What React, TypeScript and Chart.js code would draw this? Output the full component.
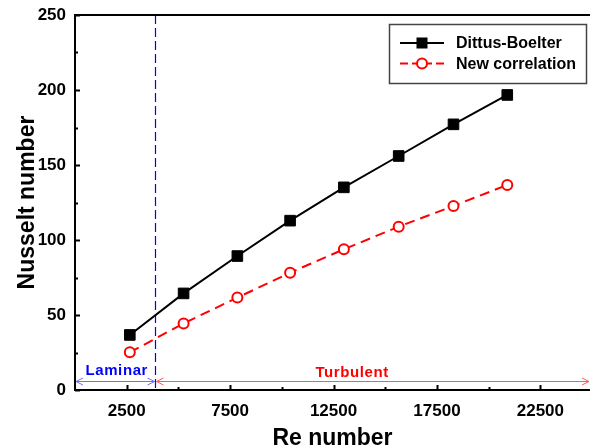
import React, { useEffect, useRef } from "react";
import { Chart, registerables } from "chart.js";

Chart.register(...registerables);

const FONT = "'Liberation Sans', Arial, Helvetica, sans-serif";
Chart.defaults.font.family = FONT;

// ---- data ----
const reNumber = [2650, 5250, 7850, 10400, 13000, 15650, 18300, 20900];
const dittusBoelter = [36.7, 64.4, 89.3, 112.9, 135.1, 156.0, 177.1, 196.7];
const newCorrelation = [25.1, 44.4, 61.6, 78.2, 93.8, 108.9, 122.7, 136.7];

const xTickLabels = [2500, 7500, 12500, 17500, 22500];
const xMinorTicks = [5000, 10000, 15000, 20000];
const yTickLabels = [0, 50, 100, 150, 200, 250];
const yMinorTicks = [25, 75, 125, 175, 225];

const X_MIN = 0;
const X_MAX = 24900;
const Y_MIN = 0;
const Y_MAX = 250;

const transitionRe = 3850;
const arrowNu = 6.2;
const seriesLabels = ["Dittus-Boelter", "New correlation"];
const regionLabels = ["Laminar", "Turbulent"];

function chevron(ctx: CanvasRenderingContext2D, x: number, y: number, dir: number) {
  ctx.beginPath();
  ctx.moveTo(x - dir * 7, y - 3.5);
  ctx.lineTo(x, y);
  ctx.lineTo(x - dir * 7, y + 3.5);
  ctx.stroke();
}

const decor = {
  id: "decor",
  beforeDatasetsDraw(chart: any) {
    const { ctx, chartArea, scales } = chart;
    const x = Math.round(scales.x.getPixelForValue(transitionRe)) + 0.5;
    ctx.save();
    ctx.strokeStyle = "#0000ff";
    ctx.lineWidth = 1.2;
    ctx.setLineDash([9, 4]);
    ctx.beginPath();
    ctx.moveTo(x, chartArea.top);
    ctx.lineTo(x, chartArea.bottom);
    ctx.stroke();
    ctx.restore();
  },
  afterDraw(chart: any) {
    const { ctx, chartArea, scales } = chart;
    const xs = scales.x;
    const ys = scales.y;
    ctx.save();
    // top frame
    ctx.strokeStyle = "#000";
    ctx.lineWidth = 2;
    ctx.beginPath();
    ctx.moveTo(chartArea.left - 1, chartArea.top);
    ctx.lineTo(chartArea.right + 2, chartArea.top);
    ctx.stroke();
    // inward ticks
    ctx.lineWidth = 2;
    const bottom = chartArea.bottom;
    const left = chartArea.left;
    xTickLabels.forEach((v) => {
      const p = Math.round(xs.getPixelForValue(v)) + 0.5;
      ctx.beginPath();
      ctx.moveTo(p, bottom);
      ctx.lineTo(p, bottom - 5);
      ctx.stroke();
    });
    xMinorTicks.forEach((v) => {
      const p = Math.round(xs.getPixelForValue(v)) + 0.5;
      ctx.beginPath();
      ctx.moveTo(p, bottom);
      ctx.lineTo(p, bottom - 3);
      ctx.stroke();
    });
    yTickLabels.forEach((v) => {
      const p = Math.round(ys.getPixelForValue(v)) + 0.5;
      ctx.beginPath();
      ctx.moveTo(left, p);
      ctx.lineTo(left + 5, p);
      ctx.stroke();
    });
    yMinorTicks.forEach((v) => {
      const p = Math.round(ys.getPixelForValue(v)) + 0.5;
      ctx.beginPath();
      ctx.moveTo(left, p);
      ctx.lineTo(left + 3, p);
      ctx.stroke();
    });

    // region arrows
    const ay = Math.round(ys.getPixelForValue(arrowNu)) + 0.5;
    const xt = Math.round(xs.getPixelForValue(transitionRe)) + 0.5;
    const xl = chartArea.left + 1;
    const xr = chartArea.right - 1;
    ctx.lineWidth = 1;
    ctx.strokeStyle = "#6e6eff";
    ctx.beginPath();
    ctx.moveTo(xl, ay);
    ctx.lineTo(xt - 1, ay);
    ctx.stroke();
    chevron(ctx, xl, ay, -1);
    chevron(ctx, xt - 1, ay, 1);
    ctx.strokeStyle = "#ff5a5a";
    ctx.beginPath();
    ctx.moveTo(xt + 1, ay);
    ctx.lineTo(xr, ay);
    ctx.stroke();
    chevron(ctx, xt + 1, ay, -1);
    chevron(ctx, xr, ay, 1);

    // region labels
    ctx.font = `bold 15px ${FONT}`;
    (ctx as any).letterSpacing = "0.6px";
    ctx.textAlign = "center";
    ctx.textBaseline = "alphabetic";
    ctx.fillStyle = "#0000ff";
    ctx.fillText(regionLabels[0], (xl + xt) / 2 + 1, ay - 7);
    ctx.fillStyle = "#ff0000";
    ctx.fillText(regionLabels[1], xs.getPixelForValue(13400), ay - 5);
    (ctx as any).letterSpacing = "0px";

    // legend
    const bx = 389.5, by = 24.5, bw = 197, bh = 59;
    ctx.strokeStyle = "#444";
    ctx.lineWidth = 1.5;
    ctx.strokeRect(bx, by, bw, bh);
    const rows = [43, 63.5];
    ctx.font = `bold 16px ${FONT}`;
    ctx.textAlign = "left";
    ctx.textBaseline = "middle";
    // row 1
    ctx.strokeStyle = "#000";
    ctx.lineWidth = 2;
    ctx.setLineDash([]);
    ctx.beginPath();
    ctx.moveTo(400, rows[0]);
    ctx.lineTo(444, rows[0]);
    ctx.stroke();
    ctx.fillStyle = "#000";
    ctx.fillRect(422 - 5.5, rows[0] - 5.5, 11, 11);
    ctx.fillText(seriesLabels[0], 456, rows[0] + 1);
    // row 2
    ctx.strokeStyle = "#ff0000";
    ctx.beginPath();
    ctx.moveTo(400, rows[1]);
    ctx.lineTo(408, rows[1]);
    ctx.moveTo(436, rows[1]);
    ctx.lineTo(444, rows[1]);
    ctx.moveTo(412, rows[1]);
    ctx.lineTo(432, rows[1]);
    ctx.stroke();
    ctx.beginPath();
    ctx.arc(422, rows[1], 5, 0, Math.PI * 2);
    ctx.fillStyle = "#fff";
    ctx.fill();
    ctx.stroke();
    ctx.fillStyle = "#000";
    ctx.fillText(seriesLabels[1], 456, rows[1] + 1);
    ctx.restore();
  },
};

export default function App() {
  const ref = useRef<HTMLCanvasElement>(null);
  useEffect(() => {
    const canvas = ref.current!;
    const chart = new Chart(canvas, {
      type: "line",
      data: {
        datasets: [
          {
            label: seriesLabels[0],
            data: reNumber.map((x, i) => ({ x, y: dittusBoelter[i] })),
            borderColor: "#000",
            backgroundColor: "#000",
            borderWidth: 2,
            pointStyle: "rect",
            pointRadius: 7.5,
            pointBorderWidth: 1,
            pointBackgroundColor: "#000",
            pointBorderColor: "#000",
            tension: 0,
          },
          {
            label: seriesLabels[1],
            data: reNumber.map((x, i) => ({ x, y: newCorrelation[i] })),
            borderColor: "#ff0000",
            backgroundColor: "#fff",
            borderWidth: 2,
            borderDash: [10, 6],
            pointStyle: "circle",
            pointRadius: 5,
            pointBorderWidth: 2,
            pointBackgroundColor: "#fff",
            pointBorderColor: "#ff0000",
            tension: 0,
          },
        ],
      },
      options: {
        animation: false,
        responsive: false,
        layout: { autoPadding: false, padding: { top: 15, left: 0, right: 0, bottom: 0 } },
        plugins: { legend: { display: false }, tooltip: { enabled: false } },
        scales: {
          x: {
            type: "linear",
            min: X_MIN,
            max: X_MAX,
            afterFit: (s: any) => {
              s.height = 58;
              s.paddingLeft = 0;
              s.paddingRight = 0;
            },
            afterBuildTicks: (s: any) => {
              s.ticks = [...xTickLabels, ...xMinorTicks]
                .sort((a, b) => a - b)
                .map((v) => ({ value: v }));
            },
            grid: { display: false, drawTicks: false },
            border: { display: true, color: "#000", width: 2 },
            ticks: {
              autoSkip: false,
              maxRotation: 0,
              padding: 11,
              color: "#000",
              font: { size: 17, weight: "bold" },
              callback: (v: any) => (xTickLabels.includes(Number(v)) ? String(v) : ""),
            },
            title: {
              display: true,
              text: "Re number",
              color: "#000",
              font: { size: 23, weight: "bold", lineHeight: 1 },
              padding: { top: 0, bottom: -2 },
            },
          },
          y: {
            type: "linear",
            min: Y_MIN,
            max: Y_MAX,
            afterFit: (s: any) => {
              s.width = 75;
              s.paddingTop = 0;
              s.paddingBottom = 0;
            },
            afterBuildTicks: (s: any) => {
              s.ticks = [...yTickLabels, ...yMinorTicks]
                .sort((a, b) => a - b)
                .map((v) => ({ value: v }));
            },
            grid: { display: false, drawTicks: false },
            border: { display: true, color: "#000", width: 2 },
            ticks: {
              autoSkip: false,
              padding: 9,
              color: "#000",
              font: { size: 17, weight: "bold" },
              callback: (v: any) => (yTickLabels.includes(Number(v)) ? String(v) : ""),
            },
            title: {
              display: true,
              text: "Nusselt number",
              color: "#000",
              font: { size: 23, weight: "bold", lineHeight: 1 },
              padding: { top: 16, bottom: 0 },
            },
          },
        },
      },
      plugins: [decor],
    } as any);
    return () => chart.destroy();
  }, []);

  return (
    <div style={{ position: "fixed", left: 0, top: 0, width: 590, height: 448, background: "#fff" }}>
      <canvas ref={ref} width={590} height={448} style={{ display: "block" }} />
    </div>
  );
}
